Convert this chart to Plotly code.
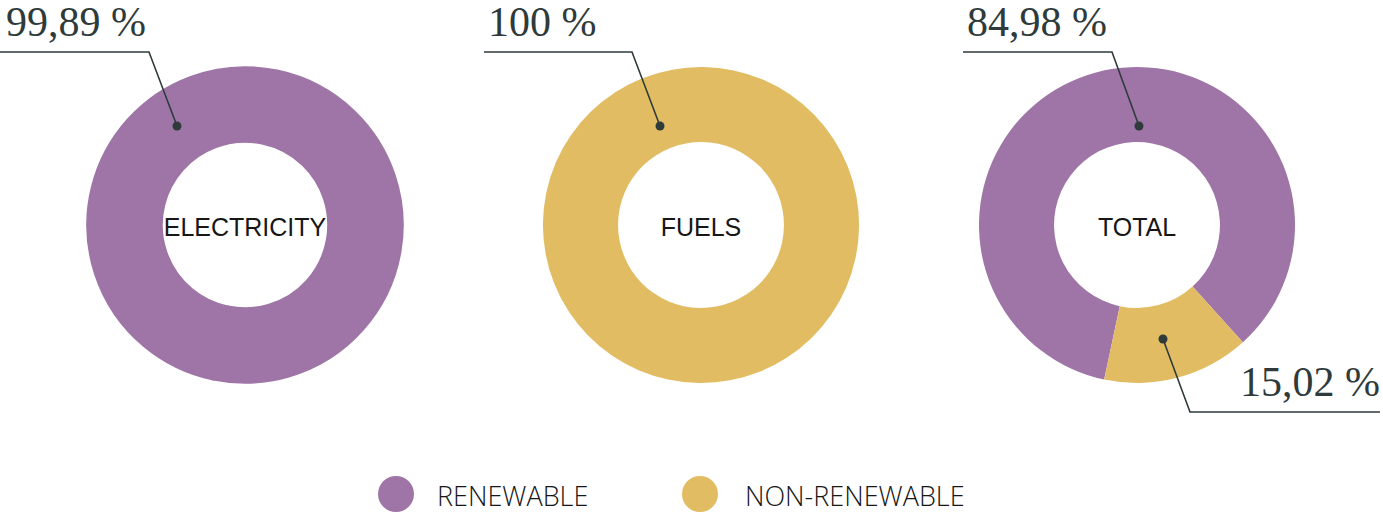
import plotly.graph_objects as go

W, H = 1383, 514

# ---- data ----
categories = ["RENEWABLE", "NON-RENEWABLE"]
pie_names = ["ELECTRICITY", "FUELS", "TOTAL"]
electricity = [99.89, 0.11]
fuels = [0.0, 100.0]
total = [84.98, 15.02]
label_texts = ["99,89 %", "100 %", "84,98 %", "15,02 %"]

colors = ["#9E75A6", "#E1BC62"]
text_color = "#2F3B3B"

def px(x):
    return x / W

def py(y):
    return 1 - y / H

centers_x = [245, 701, 1137]
center_y = 225
radius = 158
rotations = [192, 192, 192]
# the 0,11 % sliver is not visible in the reference: blend its edge into the ring
line_styles = [
    dict(color=[colors[0], colors[0]], width=1.5),
    dict(width=0),
    dict(width=0),
]

fig = go.Figure()
for name, vals, cx, rot, ln in zip(pie_names, [electricity, fuels, total], centers_x, rotations, line_styles):
    fig.add_trace(go.Pie(
        labels=categories,
        values=vals,
        hole=0.525,
        sort=False,
        direction="clockwise",
        rotation=rot,
        marker=dict(colors=colors, line=ln),
        textinfo="none",
        hoverinfo="skip",
        showlegend=False,
        domain=dict(x=[px(cx - radius), px(cx + radius)],
                    y=[py(center_y + radius), py(center_y - radius)]),
        title=dict(text=name, position="middle center",
                   font=dict(family="Liberation Sans", size=25, color="#161616")),
    ))

# leader lines: (dot, elbow, end, text anchor)
leaders = [
    ((177, 126), (149, 52), (0, 52), (4, 22, "left")),
    ((660, 126), (632, 52), (484, 52), (486, 22, "left")),
    ((1139, 126), (1112, 52), (963, 52), (965, 22, "left")),
    ((1163, 339), (1190, 412), (1380, 412), (1382, 382, "right")),
]

shapes = []
annotations = []
for (d, e, f, t), txt in zip(leaders, label_texts):
    shapes.append(dict(type="path", xref="paper", yref="paper",
                       path=f"M {px(d[0])} {py(d[1])} L {px(e[0])} {py(e[1])} L {px(f[0])} {py(f[1])}",
                       line=dict(color=text_color, width=1.6)))
    r = 4.5
    shapes.append(dict(type="circle", xref="paper", yref="paper",
                       x0=px(d[0] - r), x1=px(d[0] + r), y0=py(d[1] + r), y1=py(d[1] - r),
                       fillcolor=text_color, line=dict(width=0)))
    annotations.append(dict(text=txt, xref="paper", yref="paper",
                            x=px(t[0]), y=py(t[1]), xanchor=t[2], yanchor="middle",
                            showarrow=False,
                            font=dict(family="Liberation Serif", size=42, color=text_color)))

# legend (drawn manually)
legend_x = [396, 700]
legend_text_x = [435, 743]
for c, lx, tx, cat in zip(colors, legend_x, legend_text_x, categories):
    rr = 18
    shapes.append(dict(type="circle", xref="paper", yref="paper",
                       x0=px(lx - rr), x1=px(lx + rr), y0=py(494 + rr), y1=py(494 - rr),
                       fillcolor=c, line=dict(width=0)))
    annotations.append(dict(text=cat, xref="paper", yref="paper",
                            x=px(tx), y=py(495), xanchor="left", yanchor="middle",
                            showarrow=False,
                            font=dict(family="Open Sans", size=27, color="#161616", weight=300)))

fig.update_layout(
    width=W, height=H,
    margin=dict(l=0, r=0, t=0, b=0),
    paper_bgcolor="white",
    plot_bgcolor="white",
    shapes=shapes,
    annotations=annotations,
)

fig.write_html("out.html")
